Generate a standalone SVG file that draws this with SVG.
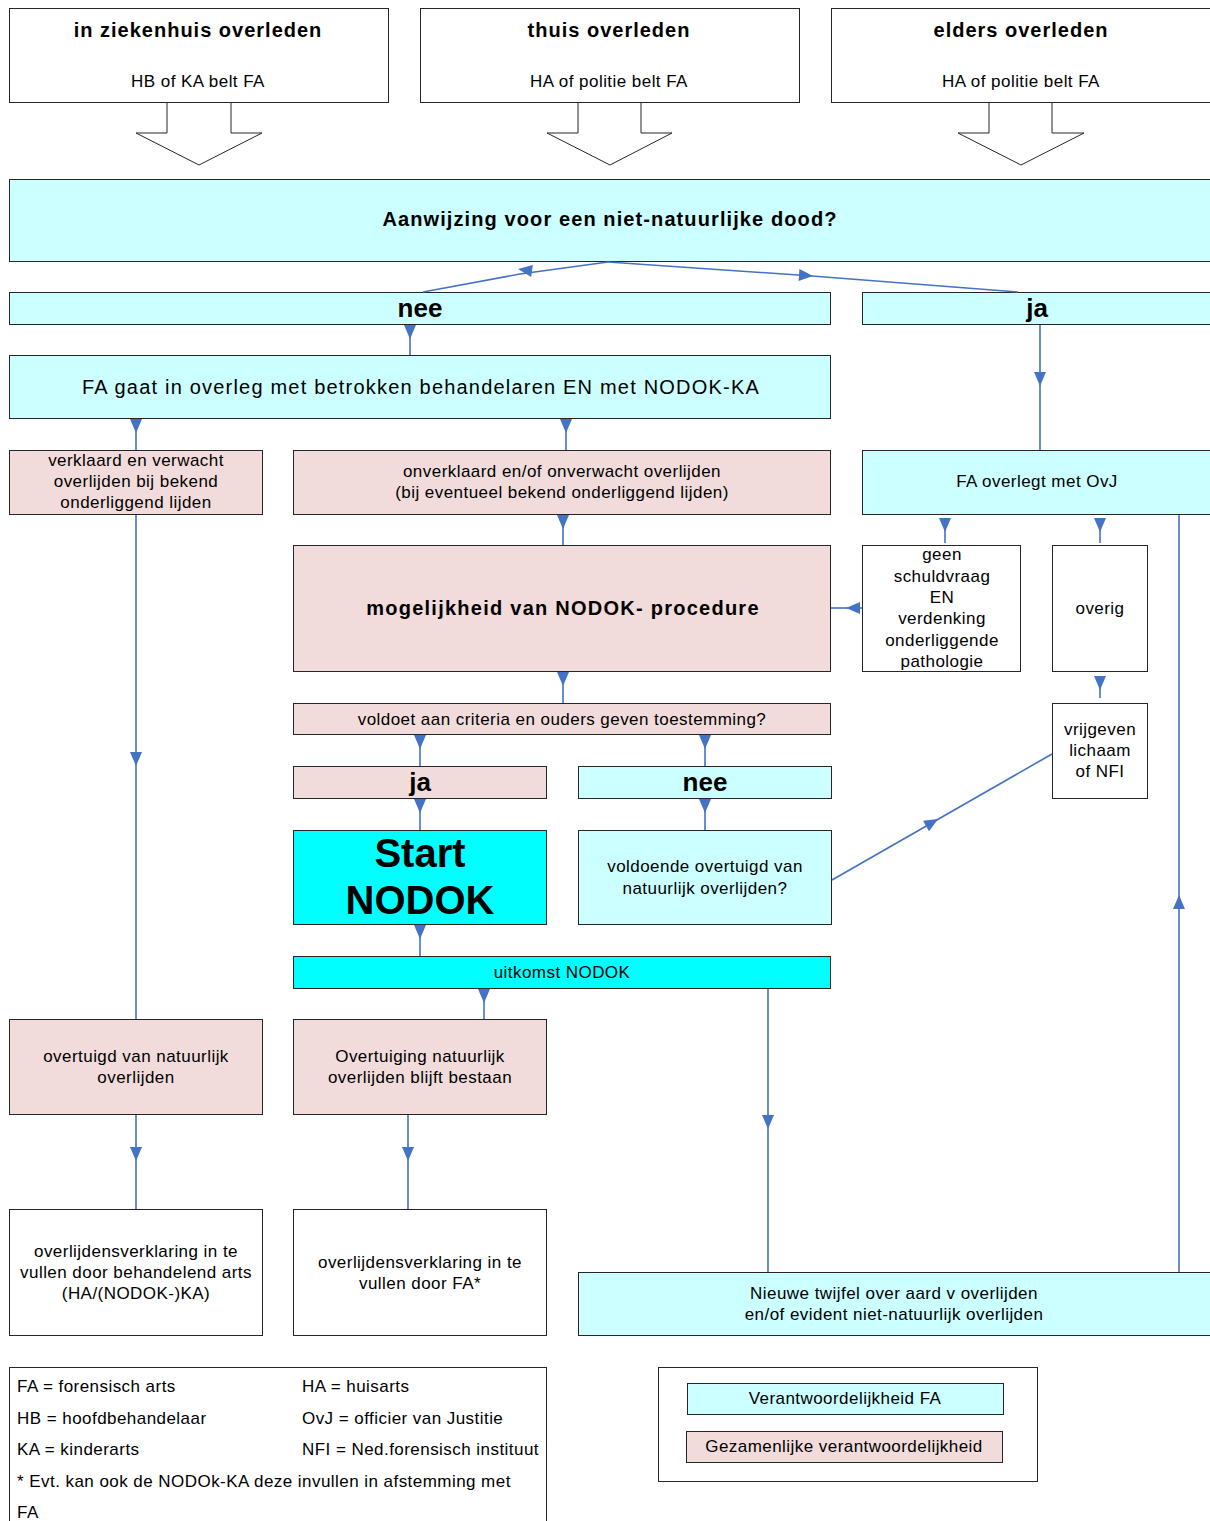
<svg xmlns="http://www.w3.org/2000/svg" xmlns:xlink="http://www.w3.org/1999/xlink" width="1210" height="1521" viewBox="0 0 1210 1521">
<style>
  .bx { stroke: #262626; stroke-width: 1; }
  .w { fill: #FFFFFF; }
  .c { fill: #CCFFFF; }
  .p { fill: #F2DCDB; }
  .cc { fill: #00FFFF; }
  text { font-family: "Liberation Sans", Arial, sans-serif; fill: #000; }
  .t { font-size: 17px; letter-spacing: 0.45px; text-anchor: middle; dominant-baseline: central; }
  .tb { font-size: 20px; font-weight: bold; letter-spacing: 0.6px; text-anchor: middle; dominant-baseline: central; }
  .tl { font-size: 26px; font-weight: bold; text-anchor: middle; dominant-baseline: central; }
  .lg { font-size: 17px; letter-spacing: 0.45px; dominant-baseline: central; }
  .ln { stroke: #4472C4; stroke-width: 1.6; fill: none; }
  .ah { fill: #4472C4; }
</style>
<defs>
  <path id="ad" d="M-6,0 L6,0 L0,14 Z"/>
</defs>
<rect x="0" y="0" width="1210" height="1521" fill="#FFFFFF"/>

<!-- top boxes -->
<g id="n-ziekenhuis">
  <rect class="bx w" x="9.5" y="8.5" width="379" height="94"/>
  <text class="tb" x="198" y="30" style="letter-spacing:1px">in ziekenhuis overleden</text>
  <text class="t" x="198" y="81">HB of KA belt FA</text>
  <polygon class="bx w" points="167,102.5 167,133 136,133 199,165 262,133 231,133 231,102.5"/>
</g>
<g id="n-thuis">
  <rect class="bx w" x="420.5" y="8.5" width="379" height="94"/>
  <text class="tb" x="609" y="30" style="letter-spacing:1px">thuis overleden</text>
  <text class="t" x="609" y="81">HA of politie belt FA</text>
  <polygon class="bx w" points="578,102.5 578,133 547,133 610,165 672,133 641,133 641,102.5"/>
</g>
<g id="n-elders">
  <rect class="bx w" x="831.5" y="8.5" width="390" height="94"/>
  <text class="tb" x="1021" y="30" style="letter-spacing:1px">elders overleden</text>
  <text class="t" x="1021" y="81">HA of politie belt FA</text>
  <polygon class="bx w" points="989,102.5 989,133 958,133 1021,165 1084,133 1052,133 1052,102.5"/>
</g>

<g id="n-aanwijzing">
  <rect class="bx c" x="9.5" y="179.5" width="1210" height="82"/>
  <text class="tb" x="610" y="219" style="letter-spacing:1.1px">Aanwijzing voor een niet-natuurlijke dood?</text>
</g>
<g id="n-nee1">
  <rect class="bx c" x="9.5" y="292.5" width="821" height="32"/>
  <text class="tl" x="420" y="308">nee</text>
</g>
<g id="n-ja1">
  <rect class="bx c" x="862.5" y="292.5" width="360" height="32"/>
  <text class="tl" x="1037" y="308">ja</text>
</g>
<g id="n-fagaat">
  <rect class="bx c" x="9.5" y="355.5" width="821" height="63"/>
  <text class="tb" style="font-weight:normal;letter-spacing:1.2px" x="421" y="387">FA gaat in overleg met betrokken behandelaren EN met NODOK-KA</text>
</g>
<g id="n-verklaard">
  <rect class="bx p" x="9.5" y="450.5" width="253" height="64"/>
  <text class="t" x="136" y="460">verklaard en verwacht</text>
  <text class="t" x="136" y="481">overlijden bij bekend</text>
  <text class="t" x="136" y="502">onderliggend lijden</text>
</g>
<g id="n-onverklaard">
  <rect class="bx p" x="293.5" y="450.5" width="537" height="64"/>
  <text class="t" x="562" y="471">onverklaard en/of onverwacht overlijden</text>
  <text class="t" x="562" y="492">(bij eventueel bekend onderliggend lijden)</text>
</g>
<g id="n-ovj">
  <rect class="bx c" x="862.5" y="450.5" width="360" height="64"/>
  <text class="t" x="1037" y="481">FA overlegt met OvJ</text>
</g>
<g id="n-mogelijkheid">
  <rect class="bx p" x="293.5" y="545.5" width="537" height="126"/>
  <text class="tb" x="563" y="608" style="letter-spacing:1.25px">mogelijkheid van NODOK- procedure</text>
</g>
<g id="n-geen">
  <rect class="bx w" x="862.5" y="545.5" width="158" height="126"/>
  <text class="t" x="942" y="554">geen</text>
  <text class="t" x="942" y="576">schuldvraag</text>
  <text class="t" x="942" y="597">EN</text>
  <text class="t" x="942" y="618">verdenking</text>
  <text class="t" x="942" y="640">onderliggende</text>
  <text class="t" x="942" y="661">pathologie</text>
</g>
<g id="n-overig">
  <rect class="bx w" x="1052.5" y="545.5" width="95" height="126"/>
  <text class="t" x="1100" y="608">overig</text>
</g>
<g id="n-vrijgeven">
  <rect class="bx w" x="1052.5" y="703.5" width="95" height="95"/>
  <text class="t" x="1100" y="729">vrijgeven</text>
  <text class="t" x="1100" y="750">lichaam</text>
  <text class="t" x="1100" y="771">of NFI</text>
</g>
<g id="n-voldoet">
  <rect class="bx p" x="293.5" y="703.5" width="537" height="31"/>
  <text class="t" x="562" y="719">voldoet aan criteria en ouders geven toestemming?</text>
</g>
<g id="n-ja2">
  <rect class="bx p" x="293.5" y="766.5" width="253" height="32"/>
  <text class="tl" x="420" y="782">ja</text>
</g>
<g id="n-nee2">
  <rect class="bx c" x="578.5" y="766.5" width="253" height="32"/>
  <text class="tl" x="705" y="782">nee</text>
</g>
<g id="n-start">
  <rect class="bx cc" x="293.5" y="830.5" width="253" height="94"/>
  <text x="420" y="853" style="font-size:40px;font-weight:bold;text-anchor:middle;dominant-baseline:central">Start</text>
  <text x="420" y="900" style="font-size:40px;font-weight:bold;text-anchor:middle;dominant-baseline:central">NODOK</text>
</g>
<g id="n-voldoende">
  <rect class="bx c" x="578.5" y="830.5" width="253" height="94"/>
  <text class="t" x="705" y="866">voldoende overtuigd van</text>
  <text class="t" x="705" y="888">natuurlijk overlijden?</text>
</g>
<g id="n-uitkomst">
  <rect class="bx cc" x="293.5" y="956.5" width="537" height="32"/>
  <text class="t" x="562" y="972">uitkomst NODOK</text>
</g>
<g id="n-overtuigd">
  <rect class="bx p" x="9.5" y="1019.5" width="253" height="95"/>
  <text class="t" x="136" y="1056">overtuigd van natuurlijk</text>
  <text class="t" x="136" y="1077">overlijden</text>
</g>
<g id="n-overtuiging">
  <rect class="bx p" x="293.5" y="1019.5" width="253" height="95"/>
  <text class="t" x="420" y="1056">Overtuiging natuurlijk</text>
  <text class="t" x="420" y="1077">overlijden blijft bestaan</text>
</g>
<g id="n-verklaring1">
  <rect class="bx w" x="9.5" y="1209.5" width="253" height="126"/>
  <text class="t" x="136" y="1251">overlijdensverklaring in te</text>
  <text class="t" x="136" y="1272">vullen door behandelend arts</text>
  <text class="t" x="136" y="1293">(HA/(NODOK-)KA)</text>
</g>
<g id="n-verklaring2">
  <rect class="bx w" x="293.5" y="1209.5" width="253" height="126"/>
  <text class="t" x="420" y="1262">overlijdensverklaring in te</text>
  <text class="t" x="420" y="1283">vullen door FA*</text>
</g>
<g id="n-twijfel">
  <rect class="bx c" x="578.5" y="1272.5" width="640" height="63"/>
  <text class="t" x="894" y="1293">Nieuwe twijfel over aard v overlijden</text>
  <text class="t" x="894" y="1314">en/of evident niet-natuurlijk overlijden</text>
</g>

<!-- legends -->
<g id="legend-abbrev">
  <rect class="bx w" x="9.5" y="1367.5" width="537" height="170"/>
  <text class="lg" x="17" y="1386">FA = forensisch arts</text>
  <text class="lg" x="302" y="1386">HA = huisarts</text>
  <text class="lg" x="17" y="1418">HB = hoofdbehandelaar</text>
  <text class="lg" x="302" y="1418">OvJ = officier van Justitie</text>
  <text class="lg" x="17" y="1449">KA = kinderarts</text>
  <text class="lg" x="302" y="1449">NFI = Ned.forensisch instituut</text>
  <text class="lg" x="17" y="1481">* Evt. kan ook de NODOk-KA deze invullen in afstemming met</text>
  <text class="lg" x="17" y="1512">FA</text>
</g>
<g id="legend-colors">
  <rect class="bx w" x="658.5" y="1367.5" width="379" height="114"/>
  <rect class="bx c" x="687.5" y="1383.5" width="316" height="31"/>
  <text class="t" x="845" y="1398">Verantwoordelijkheid FA</text>
  <rect class="bx p" x="686.5" y="1431.5" width="316" height="31"/>
  <text class="t" x="844" y="1446">Gezamenlijke verantwoordelijkheid</text>
</g>

<!-- connectors -->
<g id="connectors">
  <polyline class="ln" points="608,262 520,274 423,292"/>
  <polyline class="ln" points="608,262 812,276 1018,292"/>
  <line class="ln" x1="410" y1="325" x2="410" y2="355"/>
  <line class="ln" x1="1040" y1="325" x2="1040" y2="450"/>
  <line class="ln" x1="136" y1="419" x2="136" y2="450"/>
  <line class="ln" x1="566" y1="419" x2="566" y2="450"/>
  <line class="ln" x1="563" y1="515" x2="563" y2="545"/>
  <line class="ln" x1="945" y1="518" x2="945" y2="543"/>
  <line class="ln" x1="1100" y1="518" x2="1100" y2="543"/>
  <line class="ln" x1="831" y1="608" x2="862" y2="608"/>
  <line class="ln" x1="1100" y1="676" x2="1100" y2="698"/>
  <line class="ln" x1="563" y1="672" x2="563" y2="703"/>
  <line class="ln" x1="420" y1="735" x2="420" y2="766"/>
  <line class="ln" x1="705" y1="735" x2="705" y2="766"/>
  <line class="ln" x1="420" y1="799" x2="420" y2="830"/>
  <line class="ln" x1="705" y1="799" x2="705" y2="830"/>
  <line class="ln" x1="832" y1="880" x2="1052" y2="754"/>
  <line class="ln" x1="420" y1="925" x2="420" y2="956"/>
  <line class="ln" x1="484" y1="989" x2="484" y2="1019"/>
  <line class="ln" x1="768" y1="989" x2="768" y2="1272"/>
  <line class="ln" x1="136" y1="515" x2="136" y2="1019"/>
  <line class="ln" x1="136" y1="1115" x2="136" y2="1209"/>
  <line class="ln" x1="408" y1="1115" x2="408" y2="1209"/>
  <line class="ln" x1="1179" y1="515" x2="1179" y2="1272"/>

  <use xlink:href="#ad" class="ah" transform="translate(410,325)"/>
  <use xlink:href="#ad" class="ah" transform="translate(1040,372)"/>
  <use xlink:href="#ad" class="ah" transform="translate(136,419)"/>
  <use xlink:href="#ad" class="ah" transform="translate(566,419)"/>
  <use xlink:href="#ad" class="ah" transform="translate(563,515)"/>
  <use xlink:href="#ad" class="ah" transform="translate(945,518)"/>
  <use xlink:href="#ad" class="ah" transform="translate(1100,518)"/>
  <use xlink:href="#ad" class="ah" transform="translate(1100,676)"/>
  <use xlink:href="#ad" class="ah" transform="translate(563,672)"/>
  <use xlink:href="#ad" class="ah" transform="translate(420,735)"/>
  <use xlink:href="#ad" class="ah" transform="translate(705,735)"/>
  <use xlink:href="#ad" class="ah" transform="translate(420,799)"/>
  <use xlink:href="#ad" class="ah" transform="translate(705,799)"/>
  <use xlink:href="#ad" class="ah" transform="translate(420,925)"/>
  <use xlink:href="#ad" class="ah" transform="translate(484,989)"/>
  <use xlink:href="#ad" class="ah" transform="translate(768,1115)"/>
  <use xlink:href="#ad" class="ah" transform="translate(136,752)"/>
  <use xlink:href="#ad" class="ah" transform="translate(136,1147)"/>
  <use xlink:href="#ad" class="ah" transform="translate(408,1147)"/>
  <use xlink:href="#ad" class="ah" transform="translate(860,608) rotate(90)"/>
  <use xlink:href="#ad" class="ah" transform="translate(1179,909) rotate(180)"/>
  <use xlink:href="#ad" class="ah" transform="translate(926,826) rotate(-119.7)"/>
  <use xlink:href="#ad" class="ah" transform="translate(532,271) rotate(97.8)"/>
  <use xlink:href="#ad" class="ah" transform="translate(799,275) rotate(-86)"/>
</g>
</svg>
